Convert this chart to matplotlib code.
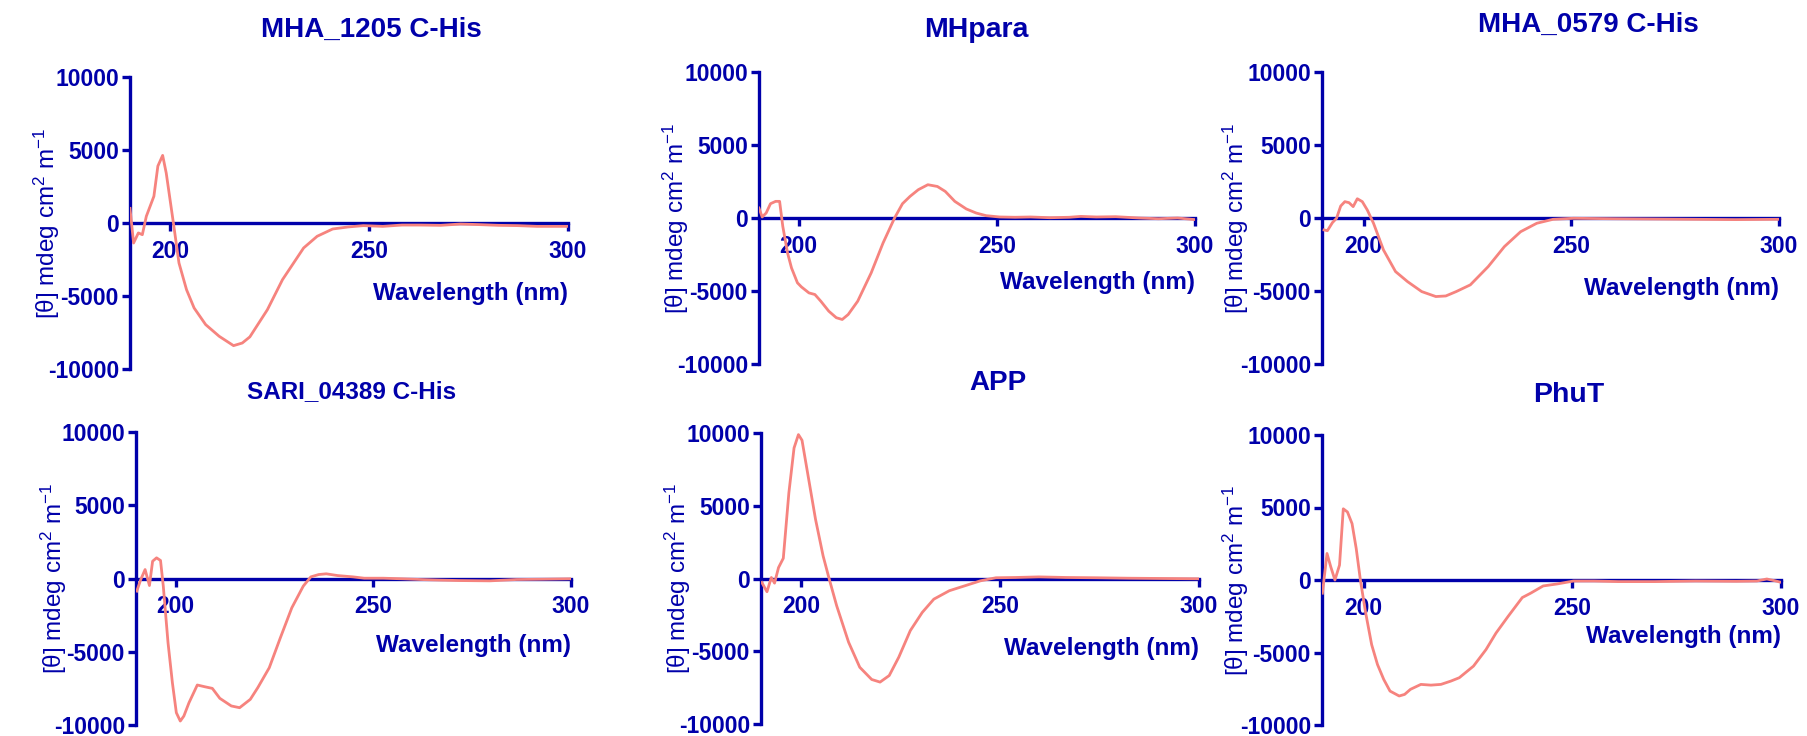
import numpy as np
import matplotlib.pyplot as plt

plt.rcParams['font.family'] = ['Liberation Sans', 'DejaVu Sans']
plt.rcParams['mathtext.fontset'] = 'custom'
plt.rcParams['mathtext.rm'] = 'Liberation Sans'
plt.rcParams['mathtext.it'] = 'Liberation Sans'
plt.rcParams['axes.unicode_minus'] = False

BLUE = "#0000AA"
LINE = "#F6837E"

titles = ["MHA_1205 C-His", "MHpara", "MHA_0579 C-His",
          "SARI_04389 C-His", "APP", "PhuT"]

# wavelength (nm) / molar ellipticity
wl_1205 = [190, 190.9, 192.1, 193.1, 194.1, 196, 197, 198.2, 199.1, 200.9, 202.3, 204.2, 206.1, 209,
           212.4, 216, 218.2, 220.1, 224.5, 228.3, 233.6, 237, 240.9, 244.8, 248.6, 253.5, 258.3,
           263, 268, 273, 277.7, 282.5, 287.4, 292.2, 300]
th_1205 = [1000, -1370, -680, -800, 460, 1830, 3900, 4630, 3420, 0, -2740, -4570, -5820, -6960,
           -7760, -8400, -8220, -7800, -5940, -3880, -1710, -910, -410, -270, -180, -230, -140,
           -140, -160, -70, -110, -160, -180, -230, -230]

wl_mhpara = [190, 190.8, 191.8, 192.9, 194.2, 195.2, 196, 197.2, 198.2, 199.7, 200.7, 202.6, 204.1,
             205.6, 207.6, 209.5, 211, 212.5, 214.9, 218.3, 221.3, 224.2, 226.2, 228.1, 230.2,
             232.6, 235, 237, 239.4, 242.3, 244.8, 247.3, 250.7, 254.6, 258.5, 263.4, 268.3,
             271.2, 275.1, 280, 285.9, 290.8, 295.6, 300]
th_mhpara = [680, 70, 340, 980, 1140, 1140, -570, -2390, -3420, -4440, -4720, -5130, -5240,
             -5700, -6380, -6830, -6950, -6610, -5700, -3760, -1710, 0, 980, 1480, 1940,
             2280, 2160, 1820, 1140, 620, 340, 160, 70, 50, 70, 20, 50,
             110, 70, 90, 0, -50, 0, -110]

wl_0579 = [190.5, 191.3, 192.5, 193.5, 194.5, 195.5, 196.5, 197.5, 198.5, 199.7, 200.9, 202.4,
           204.8, 207.7, 210.6, 214, 217.4, 219.8, 222.3, 225.7, 230, 233.9, 237.8, 241.7,
           245.6, 250.5, 260.3, 270.1, 279.8, 289.6, 300]
th_0579 = [-820, -870, -320, -20, 820, 1120, 1050, 780, 1320, 1120, 550, -360,
           -2190, -3670, -4360, -5040, -5380, -5340, -5040, -4580, -3330, -1960, -940, -360,
           -90, -20, -50, -70, -90, -110, -90]

wl_sari = [190.2, 191.2, 192.3, 193.4, 194.2, 195.2, 196.2, 196.9, 198.1, 199.2, 200.2, 201.2,
           202.1, 203.4, 205.5, 207.4, 209.3, 211.2, 214.1, 216.2, 218.9, 220.8, 223.7, 226.5,
           229.4, 232.3, 234.2, 236.2, 238.1, 241, 244.9, 247.7, 252.5, 257.3, 262.1, 266.9,
           271.8, 279.5, 286.2, 292.9, 300]
th_sari = [-860, -70, 610, -480, 1180, 1410, 1230, -520, -4390, -7110, -9160, -9730,
           -9390, -8480, -7270, -7390, -7500, -8180, -8700, -8820, -8250, -7450, -6090, -4050,
           -2000, -520, 110, 270, 320, 200, 110, 20, 20, -20, -70, -110,
           -140, -160, -70, -50, -20]

wl_app = [190.2, 191.5, 192.6, 193.4, 194.4, 195.6, 197, 198.3, 199.4, 200.3, 201.7, 203.7,
          205.6, 207.1, 209, 212, 214.8, 217.8, 219.9, 222.2, 224.6, 227.5, 230.5, 233.4,
          237.3, 241.2, 245.1, 249, 253.9, 259.8, 266.6, 274.4, 282.2, 291, 300]
th_app = [-270, -910, 70, -320, 750, 1390, 5890, 8970, 9890, 9500, 7260, 4060,
          1550, 0, -1870, -4380, -6100, -6940, -7120, -6670, -5410, -3580, -2330, -1420,
          -840, -500, -160, 50, 70, 110, 70, 50, 20, 0, -20]

wl_phut = [190.1, 191.2, 192.1, 193.1, 194.2, 195.1, 196.1, 197.2, 198.2, 199.2, 200.4, 201.9,
           203.3, 204.8, 206.3, 208.5, 209.8, 211.2, 213.7, 216.1, 218.5, 220.9, 222.9, 226.3,
           229.3, 231.7, 234.6, 238, 240, 243, 246.4, 250.3, 255.2, 261, 269.8, 279.5,
           289.3, 294.2, 296.6, 298.5, 300]
th_phut = [-910, 1830, 910, 0, 1030, 4910, 4690, 3890, 2170, 0, -2170, -4460,
           -5830, -6860, -7660, -8000, -7890, -7540, -7200, -7250, -7200, -6970, -6740, -5940,
           -4800, -3660, -2510, -1210, -910, -410, -270, -70, -70, -110, -110, -70,
           -90, -70, 70, -50, -160]

series = [(wl_1205, th_1205), (wl_mhpara, th_mhpara), (wl_0579, th_0579),
          (wl_sari, th_sari), (wl_app, th_app), (wl_phut, th_phut)]

# axes boxes in pixels: left, right, top, bottom ; title centre x / baseline y
W, H = 1808, 736
boxes = [(130, 568, 77, 369), (759, 1195, 72, 364), (1322, 1779, 72, 364),
         (136, 571, 432, 725), (761, 1199, 433, 724), (1322, 1781, 435, 725)]
title_pos = [(371, 37), (976, 37), (1588, 32), (352, 398), (998, 390), (1569, 402)]
title_size = [20, 20.5, 20, 17.5, 20, 20.5]
xlab_y = [0.26, 0.28, 0.26, 0.27, 0.26, 0.305]

fig = plt.figure(figsize=(W / 100, H / 100), dpi=100)

for i, (wl, th) in enumerate(series):
    l, r, t, b = boxes[i]
    ax = fig.add_axes([l / W, 1 - b / H, (r - l) / W, (b - t) / H])
    ax.plot(wl, th, color=LINE, lw=2.0, zorder=3)
    ax.set_xlim(190, 300)
    ax.set_ylim(-10000, 10000)
    ax.spines['top'].set_visible(False)
    ax.spines['right'].set_visible(False)
    ax.spines['bottom'].set_position(('data', 0))
    for s in ['left', 'bottom']:
        ax.spines[s].set_color(BLUE)
        ax.spines[s].set_linewidth(2.4)
        ax.spines[s].set_zorder(2)
    ax.set_xticks([200, 250, 300])
    ax.set_yticks([-10000, -5000, 0, 5000, 10000])
    ax.tick_params(axis='both', colors=BLUE, width=2.4, length=6, labelsize=16.5)
    ax.tick_params(axis='x', pad=6)
    ax.tick_params(axis='y', pad=2)
    for lab in ax.get_xticklabels() + ax.get_yticklabels():
        lab.set_fontweight('bold')
    ax.set_xlabel("Wavelength (nm)", color=BLUE, fontsize=17.5, fontweight='bold', ha='right')
    ax.xaxis.set_label_coords(1.0, xlab_y[i])
    ax.xaxis.label.set_va('center')
    ax.set_ylabel(r"[θ] mdeg cm$^{2}$ m$^{-1}$", color=BLUE, fontsize=17.5)
    ax.yaxis.set_label_coords(-0.155, 0.5)
    ax.patch.set_alpha(0)
    tx, ty = title_pos[i]
    fig.text(tx / W, 1 - ty / H, titles[i], color=BLUE, fontsize=title_size[i],
             fontweight='bold', ha='center', va='baseline')

fig.savefig("out.png", dpi=100)
